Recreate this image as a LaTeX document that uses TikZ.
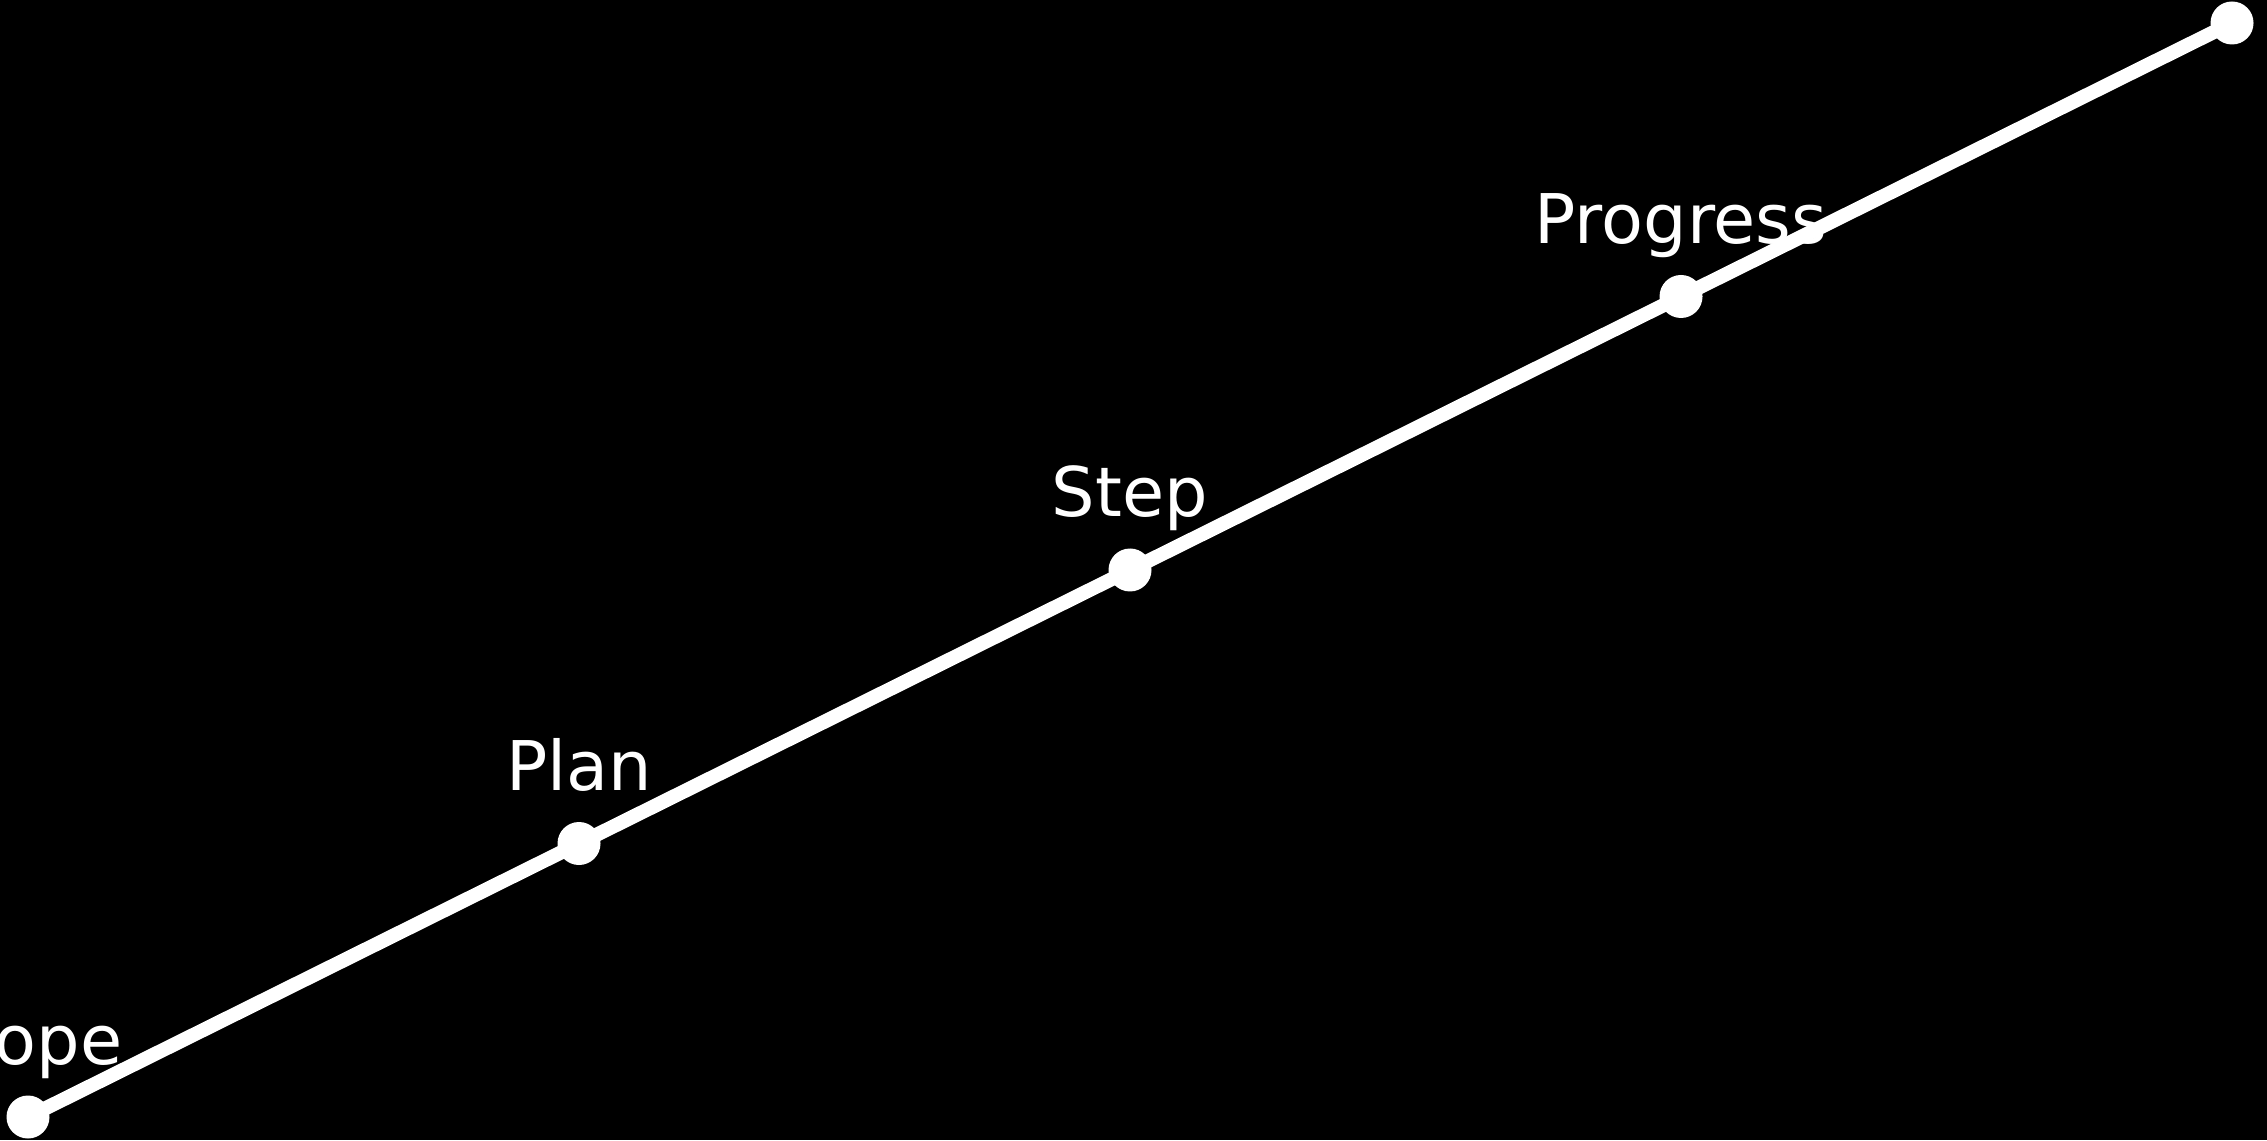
\documentclass[tikz,border=0pt]{standalone}
\usepackage{fontspec}
\setmainfont{DejaVu Sans}
\usepackage{tikz}
\usetikzlibrary{calc}

\tikzset{
  dot/.style={circle, fill=white, inner sep=0pt, minimum size=0.43cm},
  lbl/.style={text=white, anchor=base, inner sep=0pt, font=\fontsize{19.5}{23}\selectfont},
  track/.style={white, line width=4pt, line cap=round, shorten <=-2pt, shorten >=-2pt}
}

\begin{document}
\begin{tikzpicture}
		\fill[black] (0,0) rectangle (22.67,11.40);
		\useasboundingbox (0,0) rectangle (22.67,11.40);

		\node[dot] (scope) at (0.28,0.23) {};
		\node[dot] (plan) at (5.79,2.965) {};
		\node[dot] (stepnode) at (11.30,5.70) {};
		\node[dot] (progress) at (16.81,8.435) {};
		\node[dot] (goal) at (22.32,11.17) {};

		\node[lbl] (scopelbl) at ($(scope)+(-0.1,0.53)$) {Scope};
		\node[lbl] (planlbl) at ($(plan)+(0,0.53)$) {Plan};
		\node[lbl] (steplbl) at ($(stepnode)+(0,0.53)$) {Step};
		\node[lbl] (progresslbl) at ($(progress)+(0,0.53)$) {Progress};

		\draw[track] (scope) -- (plan);
		\draw[track] (plan) -- (stepnode);
		\draw[track] (stepnode) -- (progress);
		\draw[track] (progress) -- (goal);
	\end{tikzpicture}
\end{document}
